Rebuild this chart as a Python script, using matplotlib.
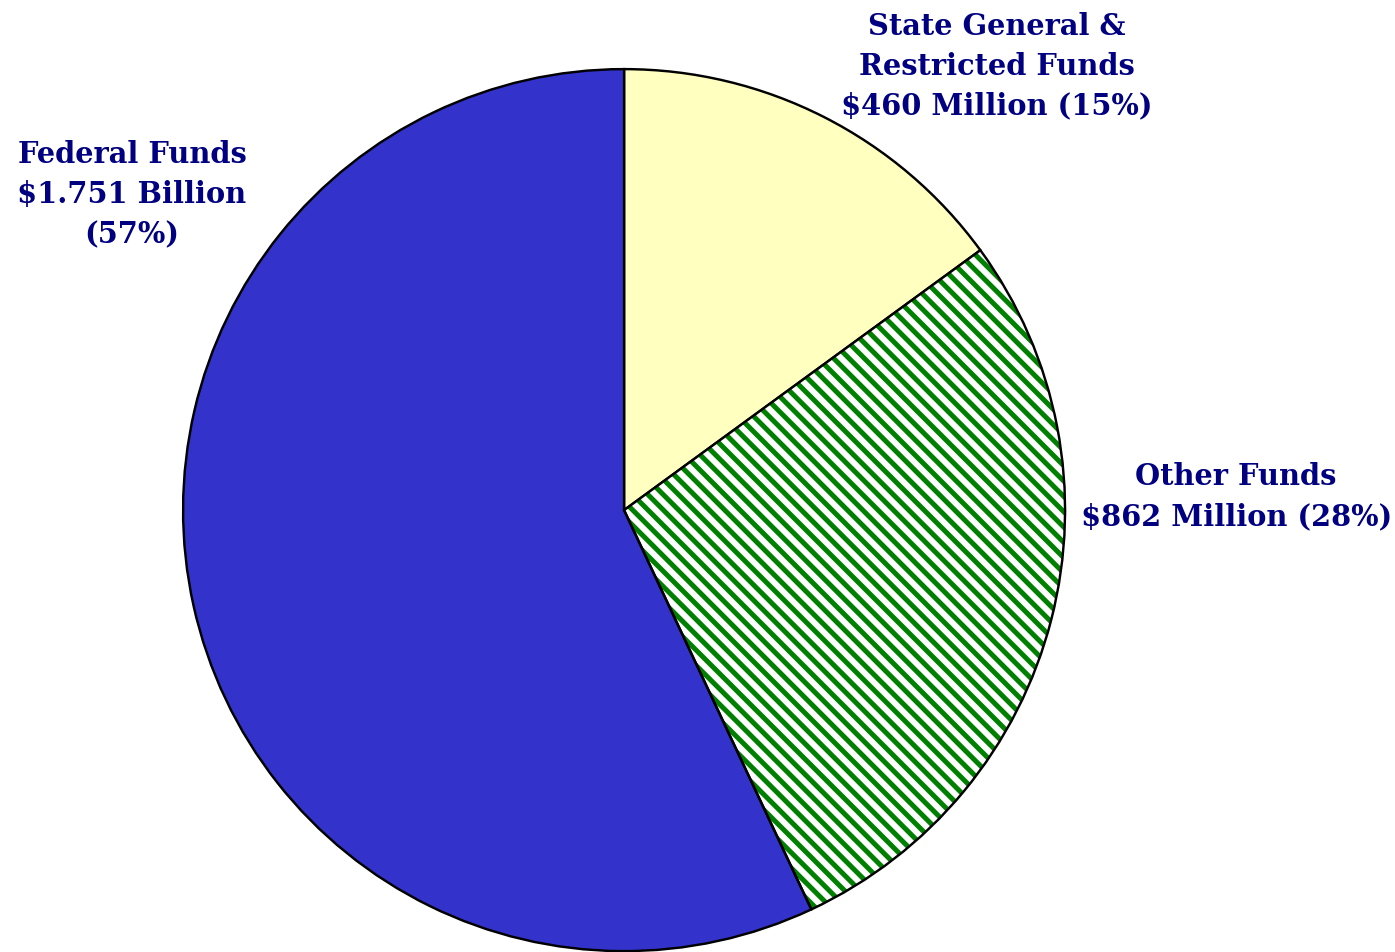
import matplotlib
matplotlib.use('Agg')
import matplotlib.pyplot as plt
from matplotlib.patches import Wedge

labels = ['State General &\nRestricted Funds\n$460 Million (15%)',
          'Other Funds\n$862 Million (28%)',
          'Federal Funds\n$1.751 Billion\n(57%)']
values = [460, 862, 1751]
colors = ['#FFFFC0', 'white', '#3333CC']
label_pos = [(0.845, 1.009), (1.388, 0.032), (-1.116, 0.717)]

plt.rcParams['hatch.linewidth'] = 3.9
navy = '#000080'

dpi = 92
fig = plt.figure(figsize=(1395 / dpi, 953 / dpi), dpi=dpi)
ax = fig.add_axes([0, 0, 1, 1])

wedges, _ = ax.pie(values, colors=colors, startangle=90, counterclock=False,
                   radius=1.0, center=(0, 0), frame=True,
                   wedgeprops=dict(edgecolor='black', linewidth=1.9))
ax.set_xlim(-1.415, 1.748)
ax.set_ylim(-1.002, 1.159)
ax.axis('off')

# green stripes for "Other Funds"
w = wedges[1]
w.set_edgecolor('#008000')
w.set_linewidth(0)
w.set_hatch('\\\\')
outline = Wedge(w.center, w.r, w.theta1, w.theta2, fill=False,
                edgecolor='black', linewidth=1.9, zorder=w.get_zorder() + 1)
ax.add_patch(outline)

for text, (x, y) in zip(labels, label_pos):
    ax.text(x, y, text, ha='center', va='center', multialignment='center',
            fontsize=22.6, fontweight='bold', family='DejaVu Serif',
            color=navy, linespacing=1.48)

fig.savefig('out.png', dpi=dpi)
